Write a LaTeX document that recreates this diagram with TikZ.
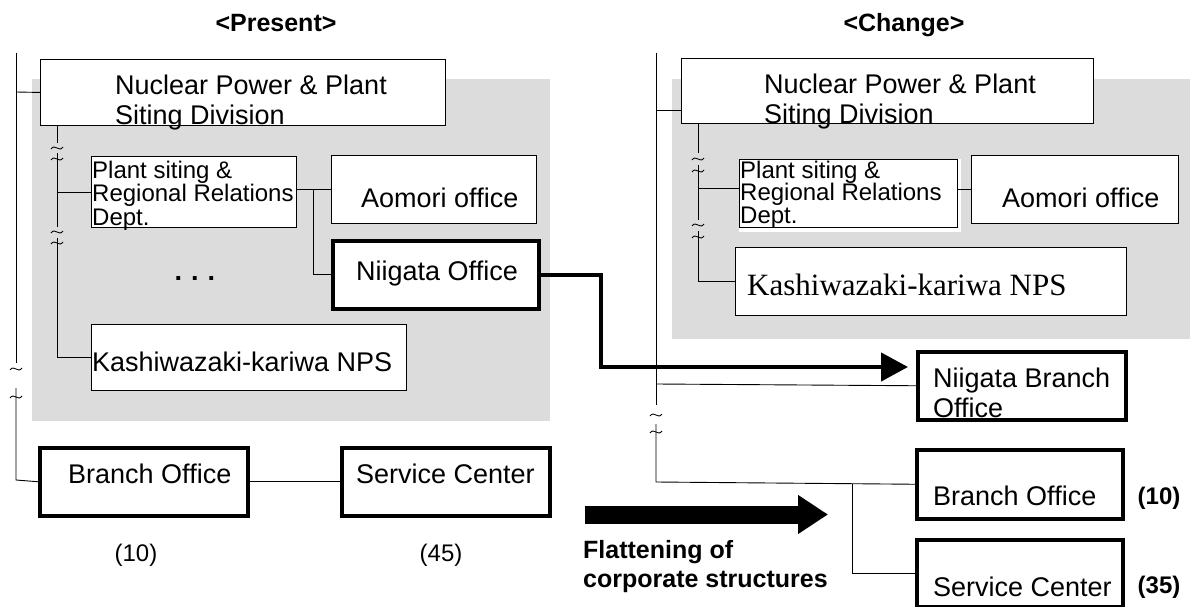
\documentclass[tikz,border=0pt]{standalone}
\usepackage{fontspec}
\setmainfont{Liberation Sans}
\newfontfamily\serifnps{Liberation Serif}
\usetikzlibrary{calc,arrows.meta}
\definecolor{panelgray}{RGB}{220,220,220}

\tikzset{
	wire/.style={line width=0.9pt},
	box/.style={draw, wire, fill=white, anchor=north west, inner sep=0pt},
	thickbox/.style={box, line width=3.5pt},
	txt/.style={anchor=base west, inner sep=0pt, align=left, font=\fontsize{27}{30}\selectfont},
	smalltxt/.style={txt, font=\fontsize{24}{23.5}\selectfont},
	headtxt/.style={anchor=base, inner sep=0pt, font=\bfseries\fontsize{25}{28}\selectfont},
	flow/.style={line width=4.5pt, -{Triangle[length=27pt,width=28pt]}},
	bigflow/.style={line width=18pt, -{Triangle[length=30pt,width=37pt]}},
}

% small break mark on a line
\newcommand{\tld}[2]{\draw[wire] (#1-6,#2+1) .. controls (#1-2,#2-5) and (#1+2,#2+5) .. (#1+6,#2-1);}

\begin{document}
\begin{tikzpicture}[x=1pt,y=-1pt]
	\useasboundingbox[fill=white] (0,0) rectangle (1194,607);
	
	% <Present>
	\fill[panelgray] (32,79) rectangle (550,421);
	
	\node[headtxt] (presT) at (276,32) {<Present>};
	
	\node[box, minimum width=405pt, minimum height=66pt] (npL) at (40,59) {};
	\node[box, minimum width=205pt, minimum height=71pt] (psL) at (91,156) {};
	\node[box, minimum width=205pt, minimum height=68pt] (aoL) at (331,155) {};
	\node[thickbox, minimum width=206pt, minimum height=68pt] (niL) at (331,239) {};
	\node[box, minimum width=315pt, minimum height=66pt] (kaL) at (91,324) {};
	\node[thickbox, minimum width=208pt, minimum height=68pt] (boL) at (38,446) {};
	\node[thickbox, minimum width=208pt, minimum height=68pt] (scL) at (340,446) {};
	
	\coordinate (vL) at (57,0);
	\coordinate (brL) at (313,0);
	
	\draw[wire] (16,53) -- (16,363);
	\draw[wire] (16,388) -- (16,480) -- (boL.west);
	\tld{16}{369}
	\tld{16}{397}
	\draw[wire] (16,92) -- (npL.west);
	
	\draw[wire] (vL |- npL.south) -- (57,143);
	\draw[wire] (57,153) -- (57,227);
	\draw[wire] (57,238) -- (vL |- kaL.west) -- (kaL.west);
	\tld{57}{148}
	\tld{57}{159}
	\tld{57}{232}
	\tld{57}{243}
	\draw[wire] (vL |- psL.west) -- (psL.west);
	
	\draw[wire] (psL.east |- aoL.west) -- (aoL.west);
	\draw[wire] (brL |- aoL.west) |- (niL.west);
	\draw[wire] (boL.east) -- (scL.west);
	
	\node[txt] (npLt) at (115,125) {Nuclear Power \& Plant\\Siting Division};
	\node[smalltxt] (psLt) at (92,225) {Plant siting \&\\Regional Relations\\Dept.};
	\node[txt] (aoLt) at (361,207) {Aomori office};
	\node[txt] (niLt) at (356,280) {Niigata Office};
	\node[anchor=base, inner sep=0pt, font=\bfseries\fontsize{27}{30}\selectfont] (dotsL) at (195,280) {.\,\,.\,\,.};
	\node[txt] (kaLt) at (92,371) {Kashiwazaki-kariwa NPS};
	\node[txt] (boLt) at (68,483) {Branch Office};
	\node[txt] (scLt) at (356,483) {Service Center};
	
	\node[anchor=base, inner sep=0pt, font=\fontsize{24}{28}\selectfont] (nBoL) at (136,561) {(10)};
	\node[anchor=base, inner sep=0pt, font=\fontsize{24}{28}\selectfont] (nScL) at (441,561) {(45)};
	
	% <Change>
	\fill[panelgray] (672,79) rectangle (1190,339);
	
	\node[headtxt] (chgT) at (904,32) {<Change>};
	
	\node[box, minimum width=412pt, minimum height=65pt] (npR) at (681,58) {};
	\fill[white] (739,159) rectangle (961,232);
	\node[box, minimum width=218pt, minimum height=68pt] (psR) at (739,159) {};
	\node[box, minimum width=207pt, minimum height=68pt] (aoR) at (971,155) {};
	\node[box, minimum width=391pt, minimum height=68pt] (kaR) at (735,247) {};
	\node[thickbox, minimum width=208pt, minimum height=68pt] (nbR) at (916,350) {};
	\node[thickbox, minimum width=206pt, minimum height=69pt] (boR) at (915,448) {};
	\node[thickbox, minimum width=206pt, minimum height=67pt] (scR) at (915,538) {};
	
	\coordinate (vR) at (698,0);
	\coordinate (psRlink) at (698,188);
	\coordinate (brR) at (852,0);
	
	\draw[wire] (656,53) -- (656,405);
	\draw[wire] (656,424) -- (656,482) -- (boR.west);
	\tld{656}{415}
	\tld{656}{432}
	\draw[wire] (656,110) -- (681,110);
	\draw[wire] (656,384) -- (nbR.west);
	\draw[wire] (brR |- boR.west) |- (scR.west);
	
	\draw[wire] (vR |- npR.south) -- (698,153);
	\draw[wire] (698,165) -- (698,220);
	\draw[wire] (698,231) -- (vR |- kaR.west) -- (kaR.west);
	\tld{698}{159}
	\tld{698}{171}
	\tld{698}{225}
	\tld{698}{237}
	\draw[wire] (psRlink) -- (psRlink -| psR.west);
	\draw[wire] (psR.east |- aoR.west) -- (aoR.west);
	
	\node[txt] (npRt) at (764,124) {Nuclear Power \& Plant\\Siting Division};
	\node[smalltxt, font=\fontsize{24}{22.5}\selectfont] (psRt) at (740,223) {Plant siting \&\\Regional Relations\\Dept.};
	\node[txt] (aoRt) at (1002,207) {Aomori office};
	\node[txt, font=\serifnps\fontsize{31}{34}\selectfont] (kaRt) at (747,295) {Kashiwazaki-kariwa NPS};
	\node[txt] (nbRt) at (933,417) {Niigata Branch\\Office};
	\node[txt] (boRt) at (933,505) {Branch Office};
	\node[txt] (scRt) at (933,596) {Service Center};
	
	\node[anchor=base, inner sep=0pt, font=\bfseries\fontsize{24}{28}\selectfont] (nBoR) at (1159,504) {(10)};
	\node[anchor=base, inner sep=0pt, font=\bfseries\fontsize{24}{28}\selectfont] (nScR) at (1159,593) {(35)};
	
	% moving the Niigata office
	\coordinate (bend) at (601,367);
	\coordinate (tipN) at (908,367);
	\draw[flow] (niL.east) -| (bend) -- (tipN);
	
	% flattening
	\coordinate (flatS) at (585,514.5);
	\coordinate (flatE) at (828,514.5);
	\draw[bigflow] (flatS) -- (flatE);
	
	\node[txt, font=\bfseries\fontsize{25}{29}\selectfont] (flatT) at (583,587) {Flattening of\\corporate structures};
	
\end{tikzpicture}
\end{document}
